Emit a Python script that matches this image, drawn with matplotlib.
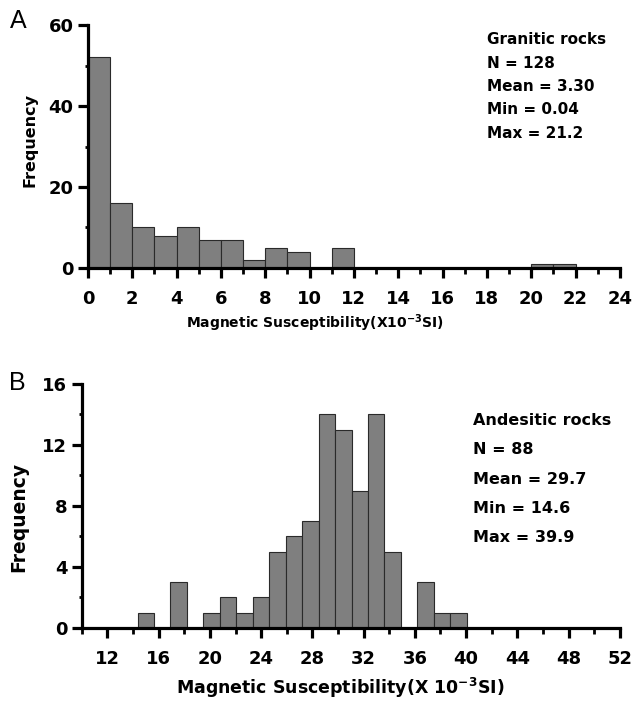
import numpy as np
import matplotlib
matplotlib.use("Agg")
import matplotlib.pyplot as plt

plt.rcParams['font.family'] = ['DejaVu Sans']
plt.rcParams['font.weight'] = 'bold'
plt.rcParams['mathtext.fontset'] = 'dejavusans'
plt.rcParams['mathtext.default'] = 'bf'

# Panel A: granitic rocks, bins of width 1 from 0 to 24
granitic_edges = list(range(0, 25))
granitic_counts = [52, 16, 10, 8, 10, 7, 7, 2, 5, 4, 0, 5,
                   0, 0, 0, 0, 0, 0, 0, 0, 1, 1, 0, 0]
granitic_stats = ["Granitic rocks", "N = 128", "Mean = 3.30", "Min = 0.04", "Max = 21.2"]

# Panel B: andesitic rocks
andesitic_start = 14.35
andesitic_width = 1.285
andesitic_counts = [1, 0, 3, 0, 1, 2, 1, 2, 5, 6, 7, 14, 13, 9, 14, 5, 0, 3, 1, 1]
andesitic_stats = ["Andesitic rocks", "N = 88", "Mean = 29.7", "Min = 14.6", "Max = 39.9"]

bar_color = '#7f7f7f'
edge_color = '#2a2a2a'

fig = plt.figure(figsize=(6.41, 7.03), dpi=100)

def style_axes(ax):
    for s in ['top', 'right']:
        ax.spines[s].set_visible(False)
    for s in ['left', 'bottom']:
        ax.spines[s].set_linewidth(2.3)
    ax.tick_params(axis='x', which='major', direction='out', length=7.5, width=2.3,
                   labelsize=13, pad=8)
    ax.tick_params(axis='y', which='major', direction='out', length=7.5, width=2.3,
                   labelsize=13, pad=3)
    ax.tick_params(axis='x', which='minor', direction='out', length=4, width=2.0)
    ax.tick_params(axis='y', which='minor', direction='out', length=2.5, width=2.0)
    for lab in ax.get_xticklabels() + ax.get_yticklabels():
        lab.set_fontweight('bold')

# ---- Panel A ----
axA = fig.add_axes([0.1373, 0.6188, 0.8297, 0.3456])
lefts = granitic_edges[:-1]
axA.bar(lefts, granitic_counts, width=1, align='edge', color=bar_color,
        edgecolor=edge_color, linewidth=0.8, zorder=2)
axA.set_xlim(0, 24)
axA.set_ylim(0, 60)
axA.set_xticks(range(0, 25, 2))
axA.set_xticks(range(1, 24, 2), minor=True)
axA.set_yticks([0, 20, 40, 60])
axA.set_yticks([10, 30, 50], minor=True)
style_axes(axA)
axA.set_xlabel("Magnetic Susceptibility(X10$^{-3}$SI)", fontsize=10, fontweight='bold',
               va='center')
axA.set_ylabel("Frequency", fontsize=11.5, fontweight='bold', va='center')
axA.xaxis.set_label_coords(0.427, -0.226)
axA.yaxis.set_label_coords(-0.109, 0.527)
for i, t in enumerate(granitic_stats):
    fig.text(487/641, 1 - (40 + i*23.3)/703, t, fontsize=11, fontweight='bold',
             va='center', ha='left')
fig.text(10/641, 1 - 21/703, "A", fontsize=18, fontweight='normal',
         family='Liberation Sans', va='center', ha='left')

# ---- Panel B ----
axB = fig.add_axes([0.1276, 0.1067, 0.8394, 0.3471])
b_lefts = [andesitic_start + i*andesitic_width for i in range(len(andesitic_counts))]
axB.bar(b_lefts, andesitic_counts, width=andesitic_width, align='edge', color=bar_color,
        edgecolor=edge_color, linewidth=0.8, zorder=2)
axB.set_xlim(10, 52)
axB.set_ylim(0, 16)
axB.set_xticks(range(12, 53, 4))
axB.set_xticks(range(10, 53, 4), minor=True)
axB.set_yticks([0, 4, 8, 12, 16])
axB.set_yticks([2, 6, 10, 14], minor=True)
style_axes(axB)
axB.set_xlabel("Magnetic Susceptibility(X 10$^{-3}$SI)", fontsize=12.5, fontweight='bold',
               va='center')
axB.set_ylabel("Frequency", fontsize=13.5, fontweight='bold', va='center')
axB.xaxis.set_label_coords(0.48, -0.246)
axB.yaxis.set_label_coords(-0.117, 0.455)
for i, t in enumerate(andesitic_stats):
    fig.text(473/641, 1 - (420 + i*29.5)/703, t, fontsize=11.5, fontweight='bold',
             va='center', ha='left')
fig.text(9/641, 1 - 383/703, "B", fontsize=18, fontweight='normal',
         family='Liberation Sans', va='center', ha='left')

fig.savefig("out.png", dpi=100)
